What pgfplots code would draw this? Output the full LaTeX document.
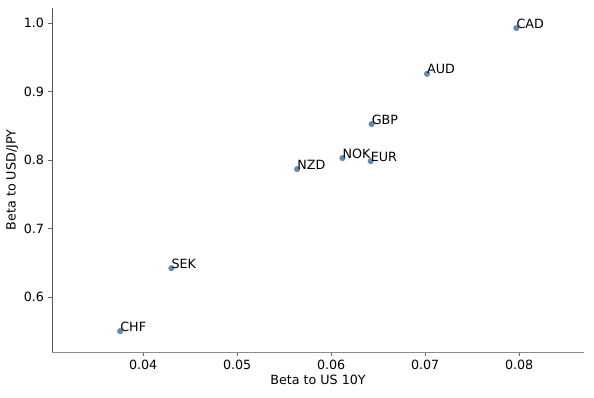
\documentclass[border=0pt]{standalone}
\usepackage{pgfplots}
\pgfplotsset{compat=1.18}
\usepackage{fontspec}
\setmainfont{DejaVu Sans}
\definecolor{pt}{HTML}{5F8BBA}
\begin{document}
\fontsize{12.7pt}{15pt}\selectfont
\begin{tikzpicture}
\begin{axis}[
  scale only axis, width=532pt, height=344pt,
  xmin=0.0303, xmax=0.0869, ymin=0.520, ymax=1.022,
  scaled x ticks=false, scaled y ticks=false,
  axis x line*=bottom, axis y line*=left,
  x axis line style={draw=black!45, line width=0.9pt, -},
  y axis line style={draw=black!65, line width=0.9pt, -},
  tick align=outside, major tick length=3.5pt,
  tick style={black!60, line width=0.6pt},
  xtick={0.04,0.05,0.06,0.07,0.08},
  ytick={0.6,0.7,0.8,0.9,1.0},
  xticklabels={0.04,0.05,0.06,0.07,0.08},
  yticklabels={0.6,0.7,0.8,0.9,1.0},
  xlabel={Beta to US 10Y}, ylabel={Beta to USD/JPY},
  xlabel style={yshift=3pt}, ylabel style={yshift=-3pt},
  ticklabel style={font=\fontsize{12.7pt}{15pt}\selectfont},
  label style={font=\fontsize{12.7pt}{15pt}\selectfont},
  clip=false,
]
\addplot[only marks, mark=*, mark size=2.8pt, mark options={draw=pt, fill=pt},
  point meta=explicit symbolic,
  nodes near coords={\pgfplotspointmeta},
  every node near coord/.style={anchor=base west, inner sep=0pt, xshift=0pt, yshift=0pt, font=\fontsize{12.7pt}{15pt}\selectfont, text=black}]
  table[meta=lab] {
x y lab
0.03755 0.5504 CHF
0.0430 0.6423 SEK
0.05638 0.7869 NZD
0.0612 0.8030 NOK
0.0642 0.7985 EUR
0.0643 0.8526 GBP
0.0702 0.9260 AUD
0.0797 0.9927 CAD
};
\end{axis}
\pgfresetboundingbox
\path ([xshift=-52pt,yshift=-45pt]current axis.south west) rectangle ([xshift=10pt,yshift=8pt]current axis.north east);
\end{tikzpicture}
\end{document}
